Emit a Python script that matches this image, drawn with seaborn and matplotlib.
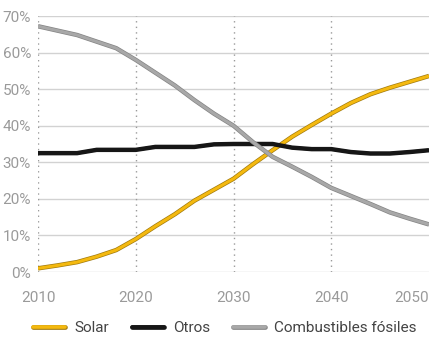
#!/usr/bin/env python3

import matplotlib

matplotlib.use("Agg")
import matplotlib.patheffects as pe
import matplotlib.pylab as plt
import pandas as pd
import seaborn as sns

# Share of generation (%)
years = [2010, 2012, 2014, 2016, 2018, 2020, 2022, 2024, 2026, 2028, 2030,
         2032, 2034, 2036, 2038, 2040, 2042, 2044, 2046, 2048, 2050]
solar = [1.0, 1.8, 2.7, 4.2, 6.0, 9.0, 12.5, 15.8, 19.5, 22.5, 25.5,
         29.5, 33.3, 37.0, 40.2, 43.3, 46.2, 48.6, 50.4, 52.0, 53.6]
otros = [32.5, 32.5, 32.5, 33.4, 33.4, 33.4, 34.2, 34.2, 34.2, 34.9, 35.0,
         35.0, 35.0, 34.0, 33.6, 33.6, 32.8, 32.4, 32.4, 32.8, 33.3]
fosiles = [67.2, 66.0, 64.8, 63.0, 61.2, 58.0, 54.5, 51.0, 47.0, 43.3, 40.0,
           35.5, 31.5, 28.8, 26.0, 23.0, 20.8, 18.6, 16.3, 14.6, 13.0]

series = ["Solar", "Otros", "Combustibles fósiles"]
colors = {"Solar": "#f4b90f", "Otros": "#161616", "Combustibles fósiles": "#a8a8a8"}
edges = {"Solar": "#a07a10", "Otros": "#161616", "Combustibles fósiles": "#858585"}

x_ticks = [2010, 2020, 2030, 2040, 2050]
y_ticks = [0, 10, 20, 30, 40, 50, 60, 70]

df = pd.DataFrame({"year": years, "Solar": solar, "Otros": otros,
                   "Combustibles fósiles": fosiles})
df = df.melt(id_vars="year", var_name="serie", value_name="value")

sns.set_theme(style="white")
plt.rcParams["font.family"] = ["Roboto", "DejaVu Sans"]

fig = plt.figure(figsize=(4.29, 3.37), dpi=100)
ax = fig.add_axes([38 / 429, 65 / 337, 1 - 38 / 429, 256 / 337])

sns.lineplot(data=df, x="year", y="value", hue="serie", hue_order=series,
             palette=colors, linewidth=2.2, ax=ax, legend=False)

for line, name in zip(ax.get_lines(), series):
    line.set_path_effects([pe.Stroke(linewidth=3.2, foreground=edges[name]),
                           pe.Normal()])
    line.set_solid_capstyle("butt")

# Grid: solid horizontal, dotted vertical
for y in y_ticks:
    ax.axhline(y, color="#d2d2d2", lw=1.0, zorder=0)
for x in x_ticks[:-1]:
    ax.axvline(x, color="#9a9a9a", lw=1.0, ls=(0, (1, 3)), zorder=0)

ax.set_xlim(2010, 2050)
ax.set_ylim(0, 70)
ax.set_xticks(x_ticks)
ax.set_yticks(y_ticks)
ax.set_yticklabels([f"{v}%" for v in y_ticks])
ax.tick_params(axis="both", length=0, labelsize=11, colors="#9a9a9a")
ax.tick_params(axis="x", pad=14)
ax.tick_params(axis="y", pad=5)
xlabels = ax.get_xticklabels()
xlabels[-1].set_horizontalalignment("right")
ax.set_xlabel("")
ax.set_ylabel("")
sns.despine(ax=ax, left=True, bottom=True)

handles = []
for name in series:
    h, = ax.plot([], [], color=colors[name], lw=2.6)
    h.set_path_effects([pe.Stroke(linewidth=3.4, foreground=edges[name]), pe.Normal()])
    handles.append(h)
fig.legend(handles, series, loc="lower left", bbox_to_anchor=(0.045, -0.035),
           ncol=3, frameon=False, fontsize=11, labelcolor="#444444",
           handlelength=2.1, handletextpad=0.6, columnspacing=1.5)

plt.savefig("out.png", dpi=100)
